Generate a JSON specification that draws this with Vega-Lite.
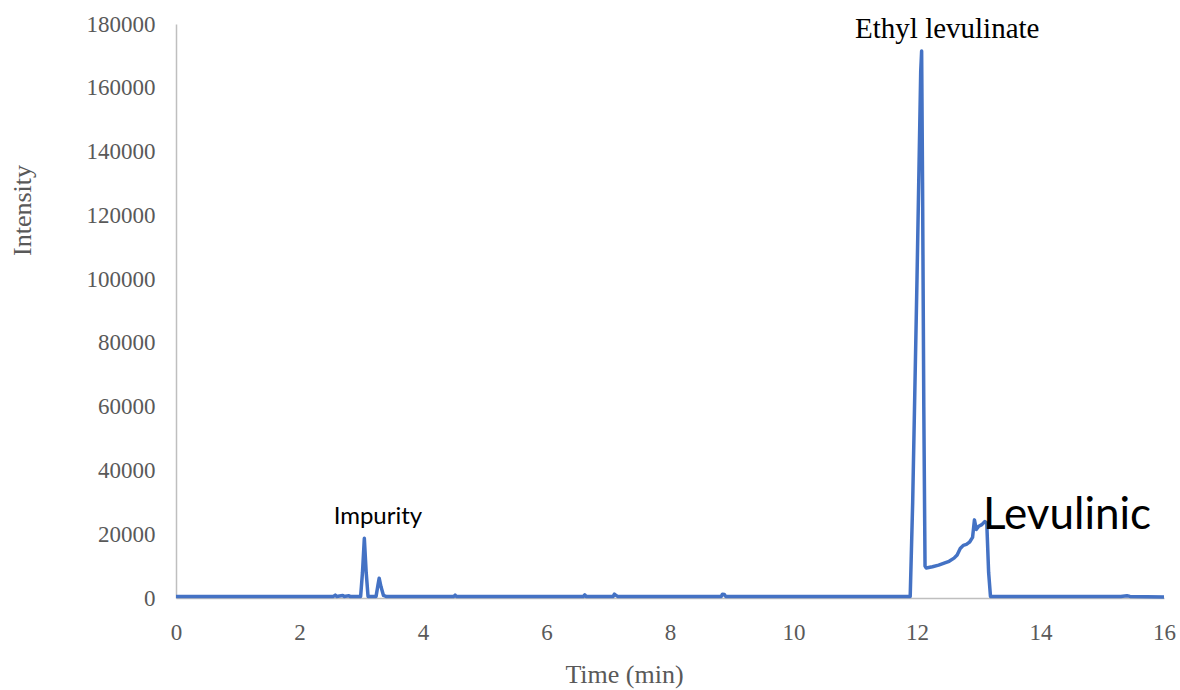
{
  "$schema": "https://vega.github.io/schema/vega-lite/v6.json",
  "width": 988,
  "height": 574,
  "autosize": {"type": "none"},
  "padding": {"left": 176, "top": 24, "right": 16, "bottom": 92},
  "background": "white",
  "config": {"view": {"stroke": null}},
  "layer": [
    {
      "data": {"values": [
        {"t": 0, "v": 500}, {"t": 2.55, "v": 500}, {"t": 2.58, "v": 900}, {"t": 2.6, "v": 500},
        {"t": 2.7, "v": 800}, {"t": 2.72, "v": 500}, {"t": 2.8, "v": 700}, {"t": 2.82, "v": 500},
        {"t": 2.99, "v": 500}, {"t": 3.02, "v": 8000}, {"t": 3.05, "v": 18700}, {"t": 3.08, "v": 8000},
        {"t": 3.11, "v": 500}, {"t": 3.24, "v": 500}, {"t": 3.27, "v": 4000}, {"t": 3.29, "v": 6200},
        {"t": 3.32, "v": 3500}, {"t": 3.36, "v": 800}, {"t": 3.4, "v": 500}, {"t": 4.5, "v": 500},
        {"t": 4.52, "v": 900}, {"t": 4.54, "v": 500}, {"t": 6.6, "v": 500}, {"t": 6.62, "v": 1000},
        {"t": 6.64, "v": 500}, {"t": 7.08, "v": 500}, {"t": 7.1, "v": 1200}, {"t": 7.12, "v": 900},
        {"t": 7.15, "v": 500}, {"t": 8.83, "v": 500}, {"t": 8.85, "v": 1200}, {"t": 8.88, "v": 1100},
        {"t": 8.9, "v": 500}, {"t": 11.89, "v": 500}, {"t": 11.93, "v": 30000}, {"t": 12.0, "v": 100000},
        {"t": 12.06, "v": 165000}, {"t": 12.075, "v": 171500}, {"t": 12.09, "v": 130000},
        {"t": 12.11, "v": 60000}, {"t": 12.13, "v": 10000}, {"t": 12.15, "v": 9400},
        {"t": 12.25, "v": 9800}, {"t": 12.35, "v": 10300}, {"t": 12.45, "v": 11000},
        {"t": 12.52, "v": 11500}, {"t": 12.6, "v": 12500}, {"t": 12.65, "v": 13500},
        {"t": 12.7, "v": 15500}, {"t": 12.75, "v": 16500}, {"t": 12.8, "v": 16800},
        {"t": 12.85, "v": 17500}, {"t": 12.9, "v": 19000}, {"t": 12.93, "v": 24500},
        {"t": 12.96, "v": 21500}, {"t": 13.0, "v": 22500}, {"t": 13.05, "v": 23000},
        {"t": 13.1, "v": 24000}, {"t": 13.13, "v": 23500}, {"t": 13.16, "v": 8000},
        {"t": 13.19, "v": 500}, {"t": 15.3, "v": 500}, {"t": 15.4, "v": 700},
        {"t": 15.45, "v": 500}, {"t": 16, "v": 300}
      ]},
      "mark": {"type": "line", "color": "#4472C4", "strokeWidth": 3.5, "strokeJoin": "round"},
      "encoding": {
        "x": {
          "field": "t", "type": "quantitative",
          "scale": {"domain": [0, 16], "nice": false},
          "axis": {
            "title": "Time (min)", "values": [0, 2, 4, 6, 8, 10, 12, 14, 16], "format": "d",
            "grid": false, "ticks": false, "domainColor": "#BFBFBF", "domainWidth": 1.5,
            "labelFont": "Liberation Serif", "labelFontSize": 23, "labelColor": "#595959",
            "labelPadding": 23, "labelFlush": false,
            "titleFont": "Liberation Serif", "titleFontSize": 26, "titleFontWeight": "normal",
            "titleColor": "#595959", "titleX": 448, "titleY": 76, "titleBaseline": "middle"
          }
        },
        "y": {
          "field": "v", "type": "quantitative",
          "scale": {"domain": [0, 180000], "nice": false},
          "axis": {
            "title": "Intensity", "values": [0, 20000, 40000, 60000, 80000, 100000, 120000, 140000, 160000, 180000],
            "format": "d",
            "grid": false, "ticks": false, "domainColor": "#BFBFBF", "domainWidth": 1.5,
            "labelFont": "Liberation Serif", "labelFontSize": 23, "labelColor": "#595959",
            "labelPadding": 21,
            "titleFont": "Liberation Serif", "titleFontSize": 26, "titleFontWeight": "normal",
            "titleColor": "#595959", "titleX": -154, "titleY": 186, "titleAlign": "center",
            "titleBaseline": "middle", "titleAngle": -90
          }
        }
      }
    },
    {
      "data": {"values": [
        {"t": 12.49, "v": 178500, "label": "Ethyl levulinate"}
      ]},
      "mark": {"type": "text", "font": "Liberation Serif", "fontSize": 29, "align": "center", "baseline": "middle", "color": "black"},
      "encoding": {
        "x": {"field": "t", "type": "quantitative"},
        "y": {"field": "v", "type": "quantitative"},
        "text": {"field": "label"}
      }
    },
    {
      "data": {"values": [
        {"t": 3.27, "v": 25400, "label": "Impurity"}
      ]},
      "mark": {"type": "text", "font": "Lato", "fontSize": 24, "align": "center", "baseline": "middle", "color": "black"},
      "encoding": {
        "x": {"field": "t", "type": "quantitative"},
        "y": {"field": "v", "type": "quantitative"},
        "text": {"field": "label"}
      }
    },
    {
      "data": {"values": [
        {"t": 13.07, "v": 25700, "label": "Levulinic"}
      ]},
      "mark": {"type": "text", "font": "Lato", "fontSize": 44, "align": "left", "baseline": "middle", "color": "black"},
      "encoding": {
        "x": {"field": "t", "type": "quantitative"},
        "y": {"field": "v", "type": "quantitative"},
        "text": {"field": "label"}
      }
    }
  ]
}
